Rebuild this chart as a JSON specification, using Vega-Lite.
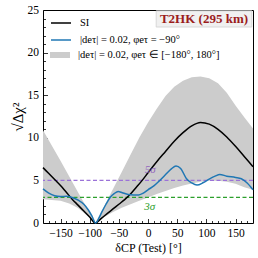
{
  "$schema": "https://vega.github.io/schema/vega-lite/v6.json",
  "width": 210,
  "height": 213,
  "autosize": {"type": "none"},
  "padding": {"left": 43, "top": 10, "right": 5, "bottom": 35},
  "background": "white",
  "config": {
    "view": {"stroke": "black", "strokeWidth": 1},
    "font": "Liberation Serif",
    "legend": {"padding": 0, "labelFont": "Liberation Serif", "labelColor": "black"}
  },
  "resolve": {"axis": {"x": "independent", "y": "independent"}},
  "datasets": {
    "band": [
      {"delta": -180, "lo": 2.8, "hi": 10.9, "label": "|deτ| = 0.02,  φeτ ∈ [−180°, 180°]"},
      {"delta": -165, "lo": 2.7, "hi": 9.1, "label": "|deτ| = 0.02,  φeτ ∈ [−180°, 180°]"},
      {"delta": -150, "lo": 2.6, "hi": 7.3, "label": "|deτ| = 0.02,  φeτ ∈ [−180°, 180°]"},
      {"delta": -135, "lo": 2.3, "hi": 5.45, "label": "|deτ| = 0.02,  φeτ ∈ [−180°, 180°]"},
      {"delta": -120, "lo": 1.75, "hi": 3.6, "label": "|deτ| = 0.02,  φeτ ∈ [−180°, 180°]"},
      {"delta": -105, "lo": 0.9, "hi": 1.8, "label": "|deτ| = 0.02,  φeτ ∈ [−180°, 180°]"},
      {"delta": -90, "lo": 0, "hi": 0, "label": "|deτ| = 0.02,  φeτ ∈ [−180°, 180°]"},
      {"delta": -75, "lo": 0.7, "hi": 2.0, "label": "|deτ| = 0.02,  φeτ ∈ [−180°, 180°]"},
      {"delta": -60, "lo": 1.3, "hi": 4.0, "label": "|deτ| = 0.02,  φeτ ∈ [−180°, 180°]"},
      {"delta": -45, "lo": 1.8, "hi": 6.0, "label": "|deτ| = 0.02,  φeτ ∈ [−180°, 180°]"},
      {"delta": -30, "lo": 2.2, "hi": 8.0, "label": "|deτ| = 0.02,  φeτ ∈ [−180°, 180°]"},
      {"delta": -15, "lo": 2.6, "hi": 10.0, "label": "|deτ| = 0.02,  φeτ ∈ [−180°, 180°]"},
      {"delta": 0, "lo": 3.0, "hi": 11.8, "label": "|deτ| = 0.02,  φeτ ∈ [−180°, 180°]"},
      {"delta": 15, "lo": 3.4, "hi": 13.4, "label": "|deτ| = 0.02,  φeτ ∈ [−180°, 180°]"},
      {"delta": 30, "lo": 3.75, "hi": 14.9, "label": "|deτ| = 0.02,  φeτ ∈ [−180°, 180°]"},
      {"delta": 45, "lo": 4.1, "hi": 16.0, "label": "|deτ| = 0.02,  φeτ ∈ [−180°, 180°]"},
      {"delta": 60, "lo": 4.4, "hi": 16.7, "label": "|deτ| = 0.02,  φeτ ∈ [−180°, 180°]"},
      {"delta": 75, "lo": 4.65, "hi": 17.1, "label": "|deτ| = 0.02,  φeτ ∈ [−180°, 180°]"},
      {"delta": 90, "lo": 4.85, "hi": 17.2, "label": "|deτ| = 0.02,  φeτ ∈ [−180°, 180°]"},
      {"delta": 105, "lo": 4.95, "hi": 17.0, "label": "|deτ| = 0.02,  φeτ ∈ [−180°, 180°]"},
      {"delta": 120, "lo": 4.95, "hi": 16.4, "label": "|deτ| = 0.02,  φeτ ∈ [−180°, 180°]"},
      {"delta": 135, "lo": 4.85, "hi": 15.3, "label": "|deτ| = 0.02,  φeτ ∈ [−180°, 180°]"},
      {"delta": 150, "lo": 4.6, "hi": 13.8, "label": "|deτ| = 0.02,  φeτ ∈ [−180°, 180°]"},
      {"delta": 165, "lo": 4.2, "hi": 12.4, "label": "|deτ| = 0.02,  φeτ ∈ [−180°, 180°]"},
      {"delta": 180, "lo": 3.9, "hi": 11.1, "label": "|deτ| = 0.02,  φeτ ∈ [−180°, 180°]"}
    ],
    "lines": [
      {"series": "SI", "delta": -180, "chi": 6.5},
      {"series": "SI", "delta": -170, "chi": 5.8},
      {"series": "SI", "delta": -160, "chi": 5.1},
      {"series": "SI", "delta": -150, "chi": 4.4},
      {"series": "SI", "delta": -140, "chi": 3.6},
      {"series": "SI", "delta": -130, "chi": 2.8},
      {"series": "SI", "delta": -120, "chi": 2.1},
      {"series": "SI", "delta": -110, "chi": 1.4},
      {"series": "SI", "delta": -100, "chi": 0.7},
      {"series": "SI", "delta": -90, "chi": 0},
      {"series": "SI", "delta": -80, "chi": 0.55},
      {"series": "SI", "delta": -70, "chi": 1.1},
      {"series": "SI", "delta": -60, "chi": 1.65},
      {"series": "SI", "delta": -50, "chi": 2.2},
      {"series": "SI", "delta": -40, "chi": 2.75},
      {"series": "SI", "delta": -30, "chi": 3.4},
      {"series": "SI", "delta": -20, "chi": 4.2},
      {"series": "SI", "delta": -10, "chi": 5.0},
      {"series": "SI", "delta": 0, "chi": 5.9},
      {"series": "SI", "delta": 15, "chi": 7.2},
      {"series": "SI", "delta": 30, "chi": 8.4},
      {"series": "SI", "delta": 45, "chi": 9.6},
      {"series": "SI", "delta": 60, "chi": 10.6},
      {"series": "SI", "delta": 75, "chi": 11.4},
      {"series": "SI", "delta": 90, "chi": 11.8},
      {"series": "SI", "delta": 105, "chi": 11.6},
      {"series": "SI", "delta": 120, "chi": 11.0},
      {"series": "SI", "delta": 135, "chi": 10.1},
      {"series": "SI", "delta": 150, "chi": 9.0},
      {"series": "SI", "delta": 165, "chi": 7.8},
      {"series": "SI", "delta": 180, "chi": 6.6},
      {"series": "|deτ| = 0.02,  φeτ = −90°", "delta": -180, "chi": 4.0},
      {"series": "|deτ| = 0.02,  φeτ = −90°", "delta": -170, "chi": 3.5},
      {"series": "|deτ| = 0.02,  φeτ = −90°", "delta": -160, "chi": 3.2},
      {"series": "|deτ| = 0.02,  φeτ = −90°", "delta": -150, "chi": 3.1},
      {"series": "|deτ| = 0.02,  φeτ = −90°", "delta": -140, "chi": 3.15},
      {"series": "|deτ| = 0.02,  φeτ = −90°", "delta": -130, "chi": 3.0},
      {"series": "|deτ| = 0.02,  φeτ = −90°", "delta": -120, "chi": 2.7},
      {"series": "|deτ| = 0.02,  φeτ = −90°", "delta": -110, "chi": 2.2},
      {"series": "|deτ| = 0.02,  φeτ = −90°", "delta": -102, "chi": 1.5},
      {"series": "|deτ| = 0.02,  φeτ = −90°", "delta": -96, "chi": 0.8},
      {"series": "|deτ| = 0.02,  φeτ = −90°", "delta": -90, "chi": 0},
      {"series": "|deτ| = 0.02,  φeτ = −90°", "delta": -84, "chi": 0.6},
      {"series": "|deτ| = 0.02,  φeτ = −90°", "delta": -79, "chi": 1.3},
      {"series": "|deτ| = 0.02,  φeτ = −90°", "delta": -72, "chi": 2.2},
      {"series": "|deτ| = 0.02,  φeτ = −90°", "delta": -65, "chi": 3.0},
      {"series": "|deτ| = 0.02,  φeτ = −90°", "delta": -58, "chi": 3.45},
      {"series": "|deτ| = 0.02,  φeτ = −90°", "delta": -51, "chi": 3.7},
      {"series": "|deτ| = 0.02,  φeτ = −90°", "delta": -44, "chi": 3.55},
      {"series": "|deτ| = 0.02,  φeτ = −90°", "delta": -34, "chi": 3.35},
      {"series": "|deτ| = 0.02,  φeτ = −90°", "delta": -25, "chi": 3.3},
      {"series": "|deτ| = 0.02,  φeτ = −90°", "delta": -16, "chi": 3.3},
      {"series": "|deτ| = 0.02,  φeτ = −90°", "delta": -8, "chi": 3.5},
      {"series": "|deτ| = 0.02,  φeτ = −90°", "delta": 0, "chi": 3.9},
      {"series": "|deτ| = 0.02,  φeτ = −90°", "delta": 10, "chi": 4.35},
      {"series": "|deτ| = 0.02,  φeτ = −90°", "delta": 18, "chi": 4.85},
      {"series": "|deτ| = 0.02,  φeτ = −90°", "delta": 29, "chi": 5.6},
      {"series": "|deτ| = 0.02,  φeτ = −90°", "delta": 40, "chi": 6.35},
      {"series": "|deτ| = 0.02,  φeτ = −90°", "delta": 48, "chi": 6.7},
      {"series": "|deτ| = 0.02,  φeτ = −90°", "delta": 56, "chi": 6.4},
      {"series": "|deτ| = 0.02,  φeτ = −90°", "delta": 66, "chi": 5.2},
      {"series": "|deτ| = 0.02,  φeτ = −90°", "delta": 75, "chi": 4.7},
      {"series": "|deτ| = 0.02,  φeτ = −90°", "delta": 84, "chi": 4.45},
      {"series": "|deτ| = 0.02,  φeτ = −90°", "delta": 95, "chi": 4.75},
      {"series": "|deτ| = 0.02,  φeτ = −90°", "delta": 105, "chi": 5.15},
      {"series": "|deτ| = 0.02,  φeτ = −90°", "delta": 115, "chi": 5.5},
      {"series": "|deτ| = 0.02,  φeτ = −90°", "delta": 123, "chi": 5.7},
      {"series": "|deτ| = 0.02,  φeτ = −90°", "delta": 135, "chi": 5.5},
      {"series": "|deτ| = 0.02,  φeτ = −90°", "delta": 150, "chi": 5.35},
      {"series": "|deτ| = 0.02,  φeτ = −90°", "delta": 160, "chi": 5.2},
      {"series": "|deτ| = 0.02,  φeτ = −90°", "delta": 170, "chi": 4.7},
      {"series": "|deτ| = 0.02,  φeτ = −90°", "delta": 180, "chi": 3.9}
    ]
  },
  "layer": [
    {
      "data": {"name": "band"},
      "mark": {"type": "area", "opacity": 1},
      "encoding": {
        "x": {
          "field": "delta", "type": "quantitative",
          "scale": {"domain": [-180, 180], "nice": false, "zero": false},
          "axis": {
            "orient": "bottom",
            "values": [-150, -100, -50, 0, 50, 100, 150],
            "tickSize": -4.5,
            "tickColor": "black", "tickWidth": 0.8,
            "labelPadding": 9, "labelFontSize": 11.5, "labelColor": "black", "labelFont": "Liberation Serif",
            "labelFlush": false, "labelOverlap": false,
            "grid": false, "domain": false,
            "title": "δCP (Test) [°]", "titleFont": "Liberation Serif", "titleFontSize": 12, "titleFontWeight": "normal", "titleColor": "black", "titlePadding": 3
          }
        },
        "y": {
          "field": "hi", "type": "quantitative",
          "scale": {"domain": [0, 25], "nice": false},
          "axis": {
            "orient": "left",
            "values": [0, 5, 10, 15, 20, 25],
            "tickSize": -4.5,
            "tickColor": "black", "tickWidth": 0.8,
            "labelPadding": 9, "labelFontSize": 11.5, "labelColor": "black", "labelFont": "Liberation Serif",
            "labelFlush": false, "labelOverlap": false,
            "grid": false, "domain": false,
            "title": "√Δχ²", "titleFont": "Liberation Serif", "titleFontSize": 15, "titleFontWeight": "normal", "titleColor": "black", "titlePadding": 2
          }
        },
        "y2": {"field": "lo"},
        "fill": {
          "field": "label", "type": "nominal",
          "scale": {"range": ["#cccccc"]},
          "legend": {
            "orient": "none", "legendX": 7, "legendY": 35, "title": null,
            "symbolType": "M-1,-0.3H1V0.3H-1Z", "symbolSize": 400, "symbolStrokeWidth": 0,
            "labelFontSize": 10.5, "labelOffset": 8, "labelLimit": 200
          }
        }
      }
    },
    {
      "data": {"name": "band"},
      "mark": {"type": "point", "opacity": 0},
      "encoding": {
        "x": {
          "field": "delta", "type": "quantitative",
          "axis": {
            "orient": "bottom",
            "values": [-170,-160,-140,-130,-120,-110,-90,-80,-70,-60,-40,-30,-20,-10,10,20,30,40,60,70,80,90,110,120,130,140,160,170],
            "tickSize": -2.5, "tickColor": "black", "tickWidth": 0.8,
            "labels": false, "grid": false, "domain": false, "title": null
          }
        },
        "y": {
          "field": "hi", "type": "quantitative",
          "axis": {
            "orient": "left",
            "values": [1,2,3,4,6,7,8,9,11,12,13,14,16,17,18,19,21,22,23,24],
            "tickSize": -2.5, "tickColor": "black", "tickWidth": 0.8,
            "labels": false, "grid": false, "domain": false, "title": null
          }
        }
      }
    },
    {
      "data": {"values": [{}]},
      "mark": {"type": "rule", "color": "#9b72d8", "strokeDash": [4, 2.5], "strokeWidth": 1.2},
      "encoding": {"y": {"datum": 5, "axis": null}}
    },
    {
      "data": {"values": [{}]},
      "mark": {"type": "rule", "color": "#2ca02c", "strokeDash": [4, 2.5], "strokeWidth": 1.2},
      "encoding": {"y": {"datum": 3, "axis": null}}
    },
    {
      "data": {"values": [{}]},
      "mark": {"type": "text", "text": "3σ", "color": "#2ca02c", "font": "Liberation Serif", "fontStyle": "italic", "fontSize": 11},
      "encoding": {"x": {"datum": 3, "axis": null}, "y": {"datum": 1.9, "axis": null}}
    },
    {
      "data": {"name": "lines"},
      "mark": {"type": "line", "strokeWidth": 1.5, "interpolate": "monotone"},
      "encoding": {
        "x": {"field": "delta", "type": "quantitative", "axis": null},
        "y": {"field": "chi", "type": "quantitative", "axis": null},
        "color": {
          "field": "series", "type": "nominal",
          "scale": {"domain": ["SI", "|deτ| = 0.02,  φeτ = −90°"], "range": ["black", "#1f77b4"]},
          "legend": {
            "orient": "none", "legendX": 7, "legendY": 2, "title": null,
            "symbolType": "stroke", "symbolSize": 400, "symbolStrokeWidth": 1.5,
            "labelFontSize": 10.5, "labelOffset": 8, "rowPadding": -6, "labelLimit": 200
          }
        }
      }
    },
    {
      "data": {"values": [{}]},
      "mark": {"type": "text", "text": "5σ", "color": "#9467bd", "font": "Liberation Serif", "fontStyle": "italic", "fontSize": 11},
      "encoding": {"x": {"datum": 4, "axis": null}, "y": {"datum": 6.2, "axis": null}}
    },
    {
      "data": {"values": [{}]},
      "mark": {"type": "rect", "color": "#f0f0f0", "stroke": "#d0d0d0", "strokeWidth": 0.8},
      "encoding": {"x": {"datum": 14, "axis": null}, "x2": {"datum": 178}, "y": {"datum": 24.9, "axis": null}, "y2": {"datum": 23.0}}
    },
    {
      "data": {"values": [{}]},
      "mark": {"type": "text", "text": "T2HK (295 km)", "color": "#9b1c1c", "font": "Liberation Serif", "fontWeight": "bold", "fontSize": 13},
      "encoding": {"x": {"datum": 96, "axis": null}, "y": {"datum": 23.95, "axis": null}}
    }
  ]
}
